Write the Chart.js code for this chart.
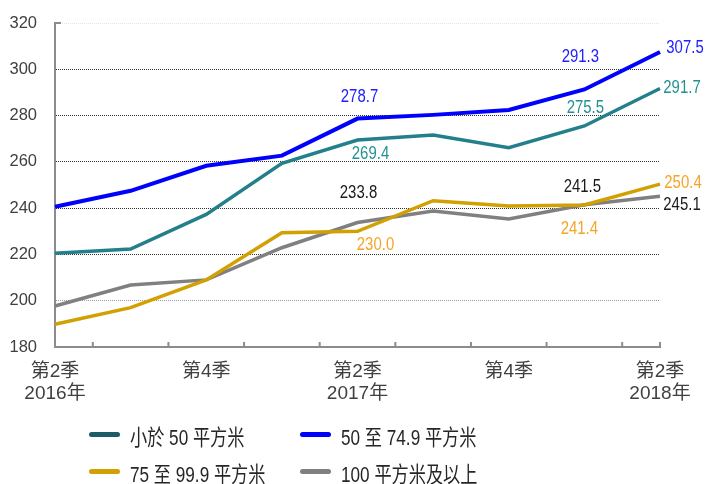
<!DOCTYPE html>
<html>
<head>
<meta charset="utf-8">
<script src="https://cdn.jsdelivr.net/npm/chart.js@4.4.0/dist/chart.umd.min.js"></script>
<style>
  html, body { margin: 0; padding: 0; background: #fff; }
  #wrap { position: relative; width: 708px; height: 484px; }
  #legend {
    position: absolute; left: 89px; top: 416px;
    display: grid; grid-template-columns: 211px auto; grid-auto-rows: 37px;
    font-family: "Liberation Sans", "Noto Sans CJK TC", sans-serif; font-size: 22px; color: #262626;
  }
  .item { display: flex; align-items: center; white-space: nowrap; }
  .swatch { width: 31px; height: 5px; border-radius: 3px; margin-right: 10px; flex: none; }
  .txt { display: inline-block; transform: scaleX(0.78); transform-origin: left center; }
</style>
</head>
<body>
<div id="wrap">
  <canvas id="chart" width="708" height="484"></canvas>
  <div id="legend"></div>
</div>
<script>
// quarters from Q2 2016 to Q2 2018
const categories = ['2016Q2', '2016Q3', '2016Q4', '2017Q1', '2017Q2', '2017Q3', '2017Q4', '2018Q1', '2018Q2'];
const tickLabels = [['第2季', '2016年'], '', '第4季', '', ['第2季', '2017年'], '', '第4季', '', ['第2季', '2018年']];
const yTicks = [180, 200, 220, 240, 260, 280, 300, 320];

const seriesNames = ['小於 50 平方米', '50 至 74.9 平方米', '75 至 99.9 平方米', '100 平方米及以上'];
const under50 = [220.5, 222.3, 237.3, 259.4, 269.4, 271.6, 266.1, 275.5, 291.7];
const from50to75 = [240.6, 247.5, 258.3, 262.7, 278.7, 280.3, 282.4, 291.3, 307.5];
const from75to100 = [189.8, 197.0, 209.0, 229.4, 230.0, 243.2, 240.9, 241.4, 250.4];
const over100 = [197.7, 206.8, 209.0, 222.9, 233.8, 238.8, 235.3, 241.5, 245.1];

const lineColors = ['#23808b', '#0000ff', '#d2a000', '#808080'];
const legendColors = ['#1d5b66', '#0000ff', '#d2a000', '#808080'];
const labelColors = ['#23918f', '#2020ff', '#f5a425', '#1a1a1a'];

// which points get a value label, and where it sits relative to the point
const valueLabels = [
  [[4, 13, 14], [7, 1, -18], [8, 22, 0]],
  [[4, 2, -22], [7, -4, -32], [8, 25, -4]],
  [[4, 18, 14], [7, -5, 24], [8, 23, -1]],
  [[4, 1, -29], [7, -2, -18], [8, 22, 9]]
];

const axisGray = '#8c8c8c';

const valueLabelPlugin = {
  id: 'valueLabels',
  afterDatasetsDraw(chart) {
    const ctx = chart.ctx;
    valueLabels.forEach(function(list, di) {
      const meta = chart.getDatasetMeta(di);
      list.forEach(function(l) {
        const pt = meta.data[l[0]];
        const v = chart.data.datasets[di].data[l[0]];
        ctx.save();
        ctx.font = '18px "Liberation Sans", sans-serif';
        ctx.textAlign = 'center';
        ctx.textBaseline = 'middle';
        ctx.fillStyle = labelColors[di];
        // narrow look of the original font
        ctx.translate(pt.x + l[1], pt.y + l[2]);
        ctx.scale(0.83, 1);
        ctx.fillText(v.toFixed(1), 0, 0);
        ctx.restore();
      });
    });
  }
};

// little inward tick marks on both axes
const innerTicks = {
  id: 'innerTicks',
  afterDraw(chart) {
    const ctx = chart.ctx;
    const a = chart.chartArea;
    const x = chart.scales.x;
    ctx.save();
    ctx.strokeStyle = axisGray;
    ctx.lineWidth = 2;
    ctx.beginPath();
    for (let i = 0; i < categories.length - 1; i++) {
      const px = (x.getPixelForValue(i) + x.getPixelForValue(i + 1)) / 2;
      ctx.moveTo(px, a.bottom);
      ctx.lineTo(px, a.bottom - 5);
    }
    const last = x.getPixelForValue(categories.length - 1);
    ctx.moveTo(last, a.bottom);
    ctx.lineTo(last, a.bottom - 5);
    ctx.moveTo(a.left, a.top);
    ctx.lineTo(a.left + 6, a.top);
    ctx.stroke();
    ctx.restore();
  }
};

const allSeries = [under50, from50to75, from75to100, over100];

new Chart(document.getElementById('chart').getContext('2d'), {
  type: 'line',
  data: {
    labels: categories,
    datasets: allSeries.map(function(vals, i) {
      return {
        label: seriesNames[i],
        data: vals,
        borderColor: lineColors[i],
        backgroundColor: lineColors[i],
        borderWidth: i === 1 ? 4 : 3.5,
        pointRadius: 0,
        tension: 0,
        order: [2, 1, 3, 4][i]
      };
    })
  },
  options: {
    responsive: false,
    animation: false,
    events: [],
    layout: { padding: { top: 23, right: 48, bottom: 77, left: 0 } },
    plugins: { legend: { display: false }, tooltip: { enabled: false } },
    scales: {
      x: {
        offset: false,
        grid: { display: false, drawTicks: false },
        border: { color: axisGray, width: 2 },
        afterFit: function(s) { s.height = 60; },
        ticks: {
          autoSkip: false, maxRotation: 0, padding: 13,
          color: '#404040',
          font: { family: '"Liberation Sans", "Noto Sans CJK TC", sans-serif', size: 19 },
          callback: function(v, i) { return tickLabels[i]; }
        }
      },
      y: {
        min: 180, max: 320,
        afterFit: function(s) { s.width = 55; s.paddingTop = 0; s.paddingBottom = 0; },
        afterBuildTicks: function(s) { s.ticks = yTicks.map(function(v) { return { value: v }; }); },
        border: { color: axisGray, width: 2, dash: [1, 1] },
        grid: {
          drawTicks: false,
          lineWidth: 1,
          color: function(c) {
            const v = c.tick && c.tick.value;
            if (v === 180) return 'rgba(0,0,0,0)';
            if (v === 320) return '#e4e4e4';
            if (v === 200) return '#999999';
            return '#333333';
          }
        },
        ticks: {
          padding: 18,
          color: '#404040',
          font: { family: '"Liberation Sans", sans-serif', size: 16.5 }
        }
      }
    }
  },
  plugins: [valueLabelPlugin, innerTicks]
});

// legend as two aligned columns
const legend = document.getElementById('legend');
seriesNames.forEach(function(name, i) {
  const item = document.createElement('div');
  item.className = 'item';
  const sw = document.createElement('span');
  sw.className = 'swatch';
  sw.style.background = legendColors[i];
  const t = document.createElement('span');
  t.className = 'txt';
  t.textContent = name;
  item.appendChild(sw);
  item.appendChild(t);
  legend.appendChild(item);
});
</script>
</body>
</html>
